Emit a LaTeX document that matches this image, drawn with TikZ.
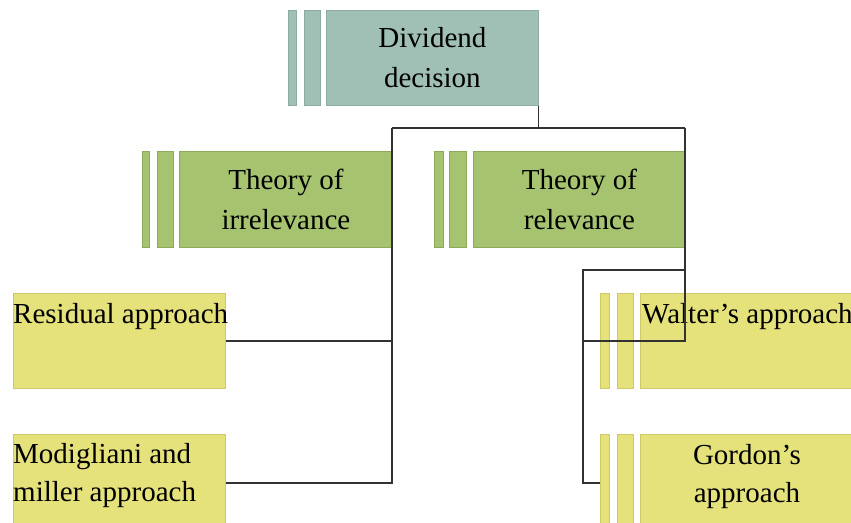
\documentclass[tikz,border=0pt]{standalone}
\usepackage{fontspec}
\setmainfont{Liberation Serif}
\definecolor{tealfill}{RGB}{160,192,182}
\definecolor{tealline}{RGB}{140,172,162}
\definecolor{greenfill}{RGB}{166,195,111}
\definecolor{greenline}{RGB}{140,170,90}
\definecolor{yelfill}{RGB}{229,225,123}
\definecolor{yelline}{RGB}{205,200,105}
\definecolor{conn}{RGB}{50,50,50}
\begin{document}
\begin{tikzpicture}[x=1pt,y=-1pt,
  bx/.style={anchor=north west,inner sep=0pt,line width=0.8pt},
  teal/.style={bx,fill=tealfill,draw=tealline},
  green/.style={bx,fill=greenfill,draw=greenline},
  yel/.style={bx,fill=yelfill,draw=yelline},
  txt/.style={font=\fontsize{29}{40}\selectfont,align=center,text=black},
  ltxt/.style={font=\fontsize{29}{38}\selectfont,align=left,text=black,inner sep=0pt},
  wire/.style={draw=conn,line width=1.3pt}]
\clip (0,0) rectangle (851,522);
\fill[white] (0,0) rectangle (851,522);
% Dividend decision
\node[teal,minimum width=8pt,minimum height=95pt] (dd1) at (288,10) {};
\node[teal,minimum width=16pt,minimum height=95pt] (dd2) at (304,10) {};
\node[teal,minimum width=212pt,minimum height=95pt] (dd) at (326,10) {};
\node[txt] (ddt) at (dd.center) {Dividend\\decision};
% Theory of irrelevance
\node[green,minimum width=7pt,minimum height=96pt] (ti1) at (142,151) {};
\node[green,minimum width=16pt,minimum height=96pt] (ti2) at (157,151) {};
\node[green,minimum width=213pt,minimum height=96pt] (ti) at (179,151) {};
\node[txt] (tit) at (ti.center) {Theory of\\irrelevance};
% Theory of relevance
\node[green,minimum width=9pt,minimum height=96pt] (tr1) at (434,151) {};
\node[green,minimum width=17pt,minimum height=96pt] (tr2) at (449,151) {};
\node[green,minimum width=212pt,minimum height=96pt] (tr) at (473,151) {};
\node[txt] (trt) at (tr.center) {Theory of\\relevance};
% Residual approach
\node[yel,minimum width=212pt,minimum height=95pt] (ra) at (13,293) {};
\node[ltxt,anchor=base west] (rat) at (13,323) {Residual approach};
% Modigliani and miller approach
\node[yel,minimum width=212pt,minimum height=97pt] (mm) at (13,434) {};
\node[ltxt,anchor=north west] (mmt) at (13,443) {Modigliani and\\miller approach};
% Walter's approach
\node[yel,minimum width=9pt,minimum height=95pt] (wa1) at (600,293) {};
\node[yel,minimum width=16pt,minimum height=95pt] (wa2) at (617,293) {};
\node[yel,minimum width=214pt,minimum height=95pt] (wa) at (640,293) {};
\node[ltxt,anchor=base west] (wat) at (642,323) {Walter’s approach};
% Gordon's approach
\node[yel,minimum width=9pt,minimum height=97pt] (go1) at (600,434) {};
\node[yel,minimum width=16pt,minimum height=97pt] (go2) at (617,434) {};
\node[yel,minimum width=214pt,minimum height=97pt] (go) at (640,434) {};
\node[ltxt,align=center,anchor=north] (got) at (747,444) {Gordon’s\\approach};
% connectors
\coordinate (jl) at (392,128);
\coordinate (jr) at (685,128);
\coordinate (k) at (583,270);
\draw[wire] (dd.south east) |- (jl);
\draw[wire] (dd.south east |- jr) -- (jr);
\draw[wire] (jl) -- (jl |- mm.east) -- (mm.east);
\draw[wire] (ra.east) -- (ra.east -| jl);
\draw[wire] (jr) |- (k |- wa.west);
\draw[wire] (k -| jr) -- (k) |- (go1.west);
\end{tikzpicture}
\end{document}
